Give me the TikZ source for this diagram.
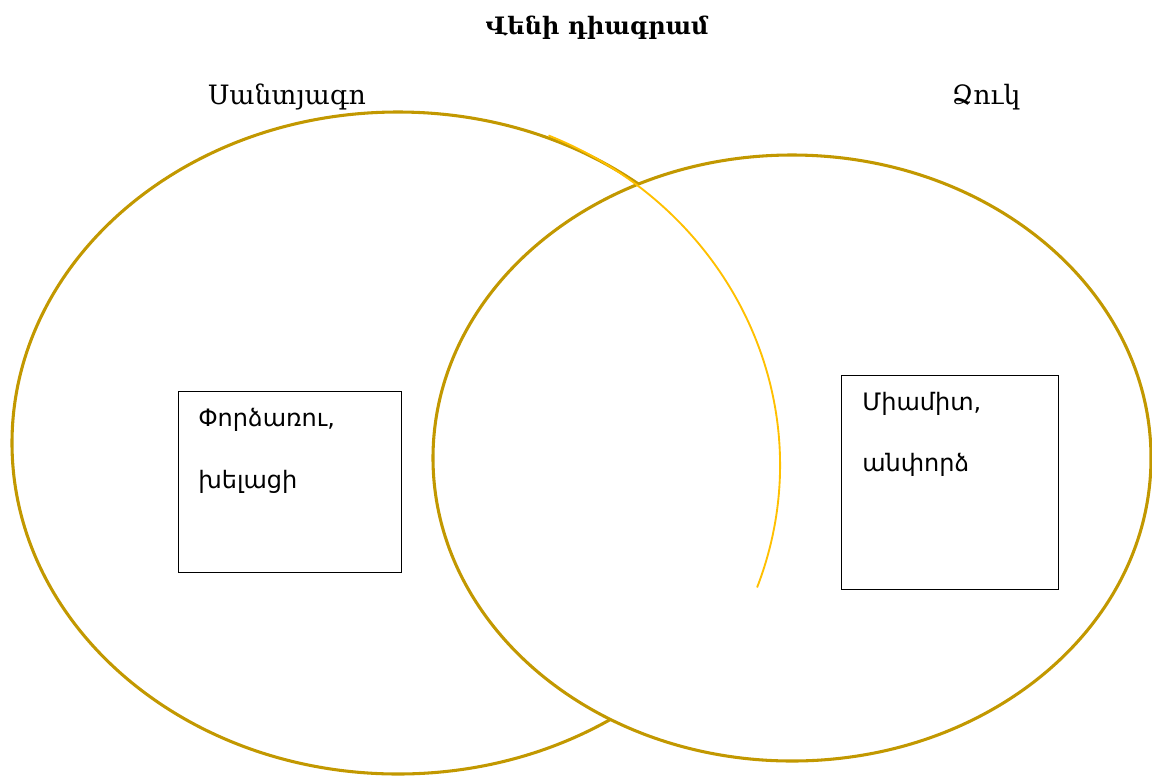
\documentclass[tikz,border=0pt]{standalone}
\usepackage{fontspec}
\newfontfamily\armserif{DejaVu Serif}
\newfontfamily\armsans{DejaVu Sans}
\definecolor{vgold}{RGB}{194,152,0}
\definecolor{vyellow}{RGB}{255,192,0}
\tikzset{
  vring/.style={draw=vgold, line width=2.3pt},
  vbox/.style={draw=black, line width=0.6pt, anchor=north west, inner sep=0pt},
  vtext/.style={font=\armsans\fontsize{18}{20}\selectfont, anchor=west, inner sep=0pt},
  vlabel/.style={font=\armserif\fontsize{20}{24}\selectfont, inner sep=0pt},
}
\begin{document}
\begin{tikzpicture}[x=0.75pt,y=-0.75pt]
\useasboundingbox (0,0) rectangle (1152,776);
% ellipses
\coordinate (cL) at (398,443);
\coordinate (cR) at (792,458);
\draw[vring] (cL) ellipse [x radius=289.5pt, y radius=248.25pt];
\draw[vring, fill=white] (cR) ellipse [x radius=269.25pt, y radius=227.25pt];
% yellow arc
\coordinate (cA) at (400,465);
\draw[vyellow, line width=1.4pt, shift={(cA)}] (67:285pt and 268.5pt) arc[start angle=67, end angle=-20, x radius=285pt, y radius=268.5pt];
% title and labels
\node[font=\armserif\bfseries\fontsize{18}{22}\selectfont, inner sep=0pt] (title) at (597,28) {Վենի դիագրամ};
\node[vlabel] (labL) at (287,97) {Սանտյագո};
\node[vlabel] (labR) at (986,97) {Ձուկ};
% boxes
\node[vbox, minimum width=167.25pt, minimum height=135.75pt] (boxL) at (178,391) {};
\node[vbox, minimum width=162.75pt, minimum height=160.5pt] (boxR) at (841,375) {};
\node[vtext] (tL1) at (198,420) {Փորձառու,};
\node[vtext] (tL2) at (198,482) {խելացի};
\node[vtext] (tR1) at (862,404) {Միամիտ,};
\node[vtext] (tR2) at (862,465) {անփորձ};
\end{tikzpicture}
\end{document}
